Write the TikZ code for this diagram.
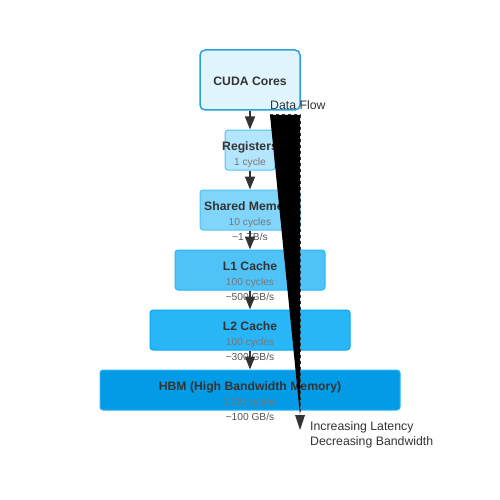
\documentclass[tikz,border=0pt]{standalone}
\usepackage{fontspec}
\setmainfont{Liberation Sans}
\usetikzlibrary{arrows.meta}
\definecolor{txt}{HTML}{333333}
\definecolor{sub}{HTML}{777777}
\definecolor{bw}{HTML}{555555}
\definecolor{f0}{HTML}{E1F5FE}\definecolor{d0}{HTML}{2AA0DC}
\definecolor{f1}{HTML}{B3E5FC}\definecolor{d1}{HTML}{4FC3F7}
\definecolor{f2}{HTML}{81D4FA}\definecolor{d2}{HTML}{4FC3F7}
\definecolor{f3}{HTML}{4FC3F7}\definecolor{d3}{HTML}{29B6F6}
\definecolor{f4}{HTML}{29B6F6}\definecolor{d4}{HTML}{03A9F4}
\definecolor{f5}{HTML}{039BE5}\definecolor{d5}{HTML}{29B6F6}
\tikzset{
  box/.style={rectangle, rounded corners=3pt, line width=1pt, inner sep=0pt},
  ttl/.style={anchor=base, text=txt, font=\fontsize{12.2}{14}\selectfont\bfseries, inner sep=0pt},
  cyc/.style={anchor=base, text=sub, font=\fontsize{10.2}{12}\selectfont, inner sep=0pt},
  bwd/.style={anchor=base, text=bw, font=\fontsize{10.2}{12}\selectfont, inner sep=0pt},
  lab/.style={anchor=base west, text=txt, font=\fontsize{12.3}{14}\selectfont, inner sep=0pt},
  arr/.style={draw=txt, line width=1.5pt, -{Triangle[length=13pt,width=10pt]}},
}
\begin{document}
\begin{tikzpicture}[x=1pt,y=-1pt]
\useasboundingbox (0,0) rectangle (500,500);
% boxes
\node[box, fill=f0, draw=d0, line width=1.5pt, rounded corners=5pt, minimum width=100pt, minimum height=60pt] (cuda) at (250,80) {};
\node[box, fill=f1, draw=d1, minimum width=50pt, minimum height=40pt] (reg) at (250,150) {};
\node[box, fill=f2, draw=d2, minimum width=100pt, minimum height=40pt] (sh) at (250,210) {};
\node[box, fill=f3, draw=d3, minimum width=150pt, minimum height=40pt] (l1) at (250,270) {};
\node[box, fill=f4, draw=d4, minimum width=200pt, minimum height=40pt] (l2) at (250,330) {};
\node[box, fill=f5, draw=d5, minimum width=300pt, minimum height=40pt] (hbm) at (250,390) {};
% texts
\node[ttl] (tcuda) at (250,85.5) {CUDA Cores};
\node[ttl] (treg) at (250,150) {Registers};
\node[cyc] (creg) at (250,165) {1 cycle};
\node[ttl] (tsh) at (250,210) {Shared Memory};
\node[cyc] (csh) at (250,225) {10 cycles};
\node[bwd] (bsh) at (250,240) {\textasciitilde1 TB/s};
\node[ttl] (tl1) at (250,270) {L1 Cache};
\node[cyc] (cl1) at (250,285) {100 cycles};
\node[bwd] (bl1) at (250,300) {\textasciitilde500 GB/s};
\node[ttl] (tl2) at (250,330) {L2 Cache};
\node[cyc] (cl2) at (250,345) {100 cycles};
\node[bwd] (bl2) at (250,360) {\textasciitilde300 GB/s};
\node[ttl] (thbm) at (250,390) {HBM (High Bandwidth Memory)};
\node[cyc] (chbm) at (250,405) {1000 cycles};
\node[bwd] (bhbm) at (250,420) {\textasciitilde100 GB/s};
% arrows
\draw[arr] (cuda.south) -- (reg.north);
\draw[arr] (reg.south) -- (sh.north);
\draw[arr] (sh.south) -- (l1.north);
\draw[arr] (l1.south) -- (l2.north);
\draw[arr] (l2.south) -- (hbm.north);
% data flow wedge
\coordinate (wa) at (270,115);
\coordinate (wb) at (300,115);
\coordinate (wc) at (300,415);
\fill[black] (wa) -- (wb) -- (wc) -- cycle;
\draw[txt, line width=1pt, dash pattern=on 3pt off 3pt] (wa) -- (wb) -- (wc);
\fill[txt] (295,415) -- (305,415) -- (300,430) -- cycle;
\node[lab] (df) at (270,110) {Data Flow};
\node[lab] (il) at (310,430) {Increasing Latency};
\node[lab] (db) at (310,445) {Decreasing Bandwidth};
\end{tikzpicture}
\end{document}
